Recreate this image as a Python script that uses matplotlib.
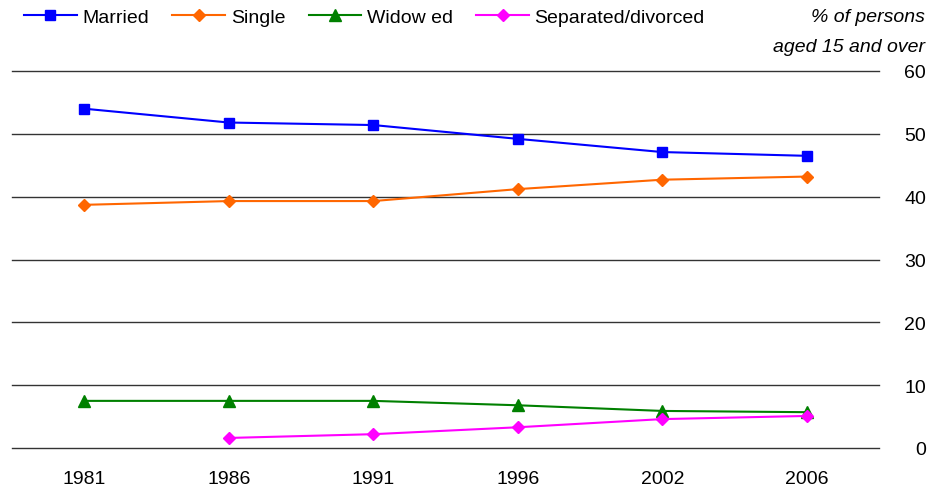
import numpy as np
import matplotlib
matplotlib.use("Agg")
import matplotlib.pyplot as plt

plt.rcParams["font.family"] = ["Liberation Sans", "DejaVu Sans"]

years = ["1981", "1986", "1991", "1996", "2002", "2006"]
married = [54.0, 51.8, 51.4, 49.2, 47.1, 46.5]
single = [38.7, 39.3, 39.3, 41.2, 42.7, 43.2]
widowed = [7.5, 7.5, 7.5, 6.8, 5.9, 5.7]
separated = [np.nan, 1.6, 2.2, 3.3, 4.6, 5.1]
y_ticks = [0, 10, 20, 30, 40, 50, 60]

fig = plt.figure(figsize=(9.28, 4.89), dpi=100)
ax = fig.add_axes([12 / 928, 40 / 489, 867 / 928, 377 / 489])

x = np.arange(len(years))
ax.plot(x, married, color="#0000ff", marker="s", markersize=7, lw=1.5, label="Married", zorder=3)
ax.plot(x, single, color="#ff6600", marker="D", markersize=6, lw=1.5, label="Single", zorder=3)
ax.plot(x, widowed, color="#008000", marker="^", markersize=8, lw=1.5, label="Widow ed", zorder=3)
ax.plot(x, separated, color="#ff00ff", marker="D", markersize=6, lw=1.5,
        label="Separated/divorced", zorder=3)

for t in y_ticks:
    ax.axhline(t, color="#333333", lw=1, zorder=1, clip_on=False)

ax.set_xlim(-0.5, len(years) - 0.5)
ax.set_ylim(0, 60)
ax.set_xticks(x)
ax.set_xticklabels(years, fontsize=14)
ax.set_yticks(y_ticks)
ax.yaxis.tick_right()
ax.tick_params(axis="y", length=0, labelsize=14, pad=34)
for lab in ax.get_yticklabels():
    lab.set_horizontalalignment("right")
ax.tick_params(axis="x", length=0, labelsize=14, pad=16)
for s in ax.spines.values():
    s.set_visible(False)

fig.legend(*ax.get_legend_handles_labels(), loc="center left",
           bbox_to_anchor=(24 / 928, 1 - 18 / 489), ncol=4, frameon=False,
           fontsize=14, handlelength=2.7, handletextpad=0.3, columnspacing=1.2,
           borderaxespad=0, borderpad=0)

fig.text(925 / 928, 1 - 18 / 489, "% of persons", ha="right", va="center",
         fontsize=14, style="italic")
fig.text(925 / 928, 1 - 47 / 489, "aged 15 and over", ha="right", va="center",
         fontsize=14, style="italic")

fig.savefig("out.png", dpi=100)
